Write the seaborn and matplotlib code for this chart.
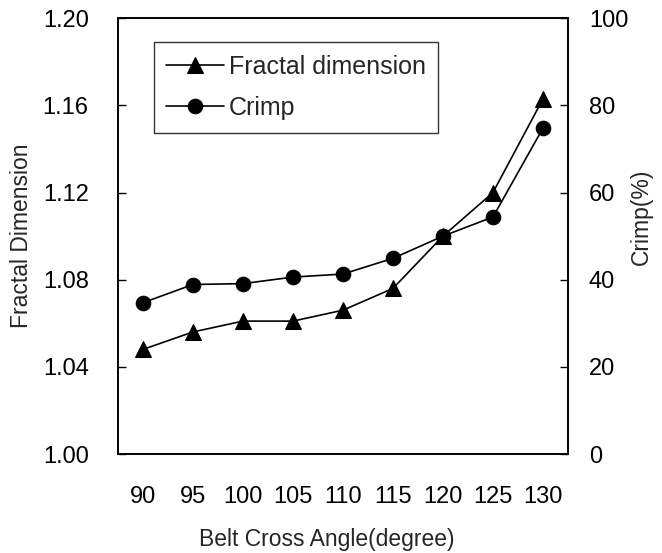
import matplotlib
matplotlib.use("Agg")
import matplotlib.pyplot as plt
import seaborn as sns
import pandas as pd

angles = [90, 95, 100, 105, 110, 115, 120, 125, 130]
fractal_dimension = [1.048, 1.056, 1.061, 1.061, 1.066, 1.076, 1.100, 1.120, 1.163]
crimp = [34.7, 38.9, 39.1, 40.6, 41.3, 44.9, 50.0, 54.4, 74.8]
left_ticks = [1.00, 1.04, 1.08, 1.12, 1.16, 1.20]
right_ticks = [0, 20, 40, 60, 80, 100]

sns.set_style("white")
plt.rcParams['font.family'] = ['Liberation Sans', 'DejaVu Sans']

df = pd.DataFrame({"angle": angles, "fd": fractal_dimension, "crimp": crimp})

fig = plt.figure(figsize=(6.62, 5.53), dpi=100)
ax = fig.add_axes([0.178, 0.179, 0.680, 0.788])
ax2 = ax.twinx()

sns.lineplot(data=df, x="angle", y="fd", ax=ax, color="black", marker="^",
             markersize=11, linewidth=1.2, markeredgecolor="black",
             label="Fractal dimension", legend=False)
sns.lineplot(data=df, x="angle", y="crimp", ax=ax2, color="black", marker="o",
             markersize=10.5, linewidth=1.2, markeredgecolor="black",
             label="Crimp", legend=False)

ax.set_xlim(87.5, 132.5)
ax.set_ylim(1.00, 1.20)
ax2.set_ylim(0, 100)
ax.set_xticks(angles)
ax.set_xticklabels([str(a) for a in angles])
ax.set_yticks(left_ticks)
ax.set_yticklabels([f"{t:.2f}" for t in left_ticks])
ax2.set_yticks(right_ticks)
ax2.set_yticklabels([str(t) for t in right_ticks])

for a in (ax, ax2):
    for s in a.spines.values():
        s.set_color("black")
        s.set_linewidth(1.2)

ax.tick_params(axis="x", length=0, pad=23, labelsize=17, colors="black")
ax.tick_params(axis="y", direction="in", length=6, width=1, pad=21,
               labelsize=17, colors="black", left=True)
ax2.tick_params(axis="y", direction="in", length=6, width=1, pad=15,
                labelsize=17, colors="black", right=True)

ax.set_xlabel("Belt Cross Angle(degree)", fontsize=16.5)
ax.xaxis.set_label_coords(0.465, -0.17)
ax.set_ylabel("Fractal Dimension", fontsize=16.5, labelpad=7)
ax2.set_ylabel("Crimp(%)", fontsize=16.5)
ax2.yaxis.set_label_coords(1.138, 0.544)

handles = [ax.lines[0], ax2.lines[0]]
labels = ["Fractal dimension", "Crimp"]
leg = ax.legend(handles, labels, loc="upper left", bbox_to_anchor=(0.08, 0.945),
                fontsize=18, frameon=True, fancybox=False, edgecolor="black",
                handlelength=2.3, handletextpad=0.2, labelspacing=0.7,
                borderpad=0.5, borderaxespad=0)
leg.get_frame().set_linewidth(1.0)
leg.set_zorder(10)

fig.savefig("out.png", dpi=100)
